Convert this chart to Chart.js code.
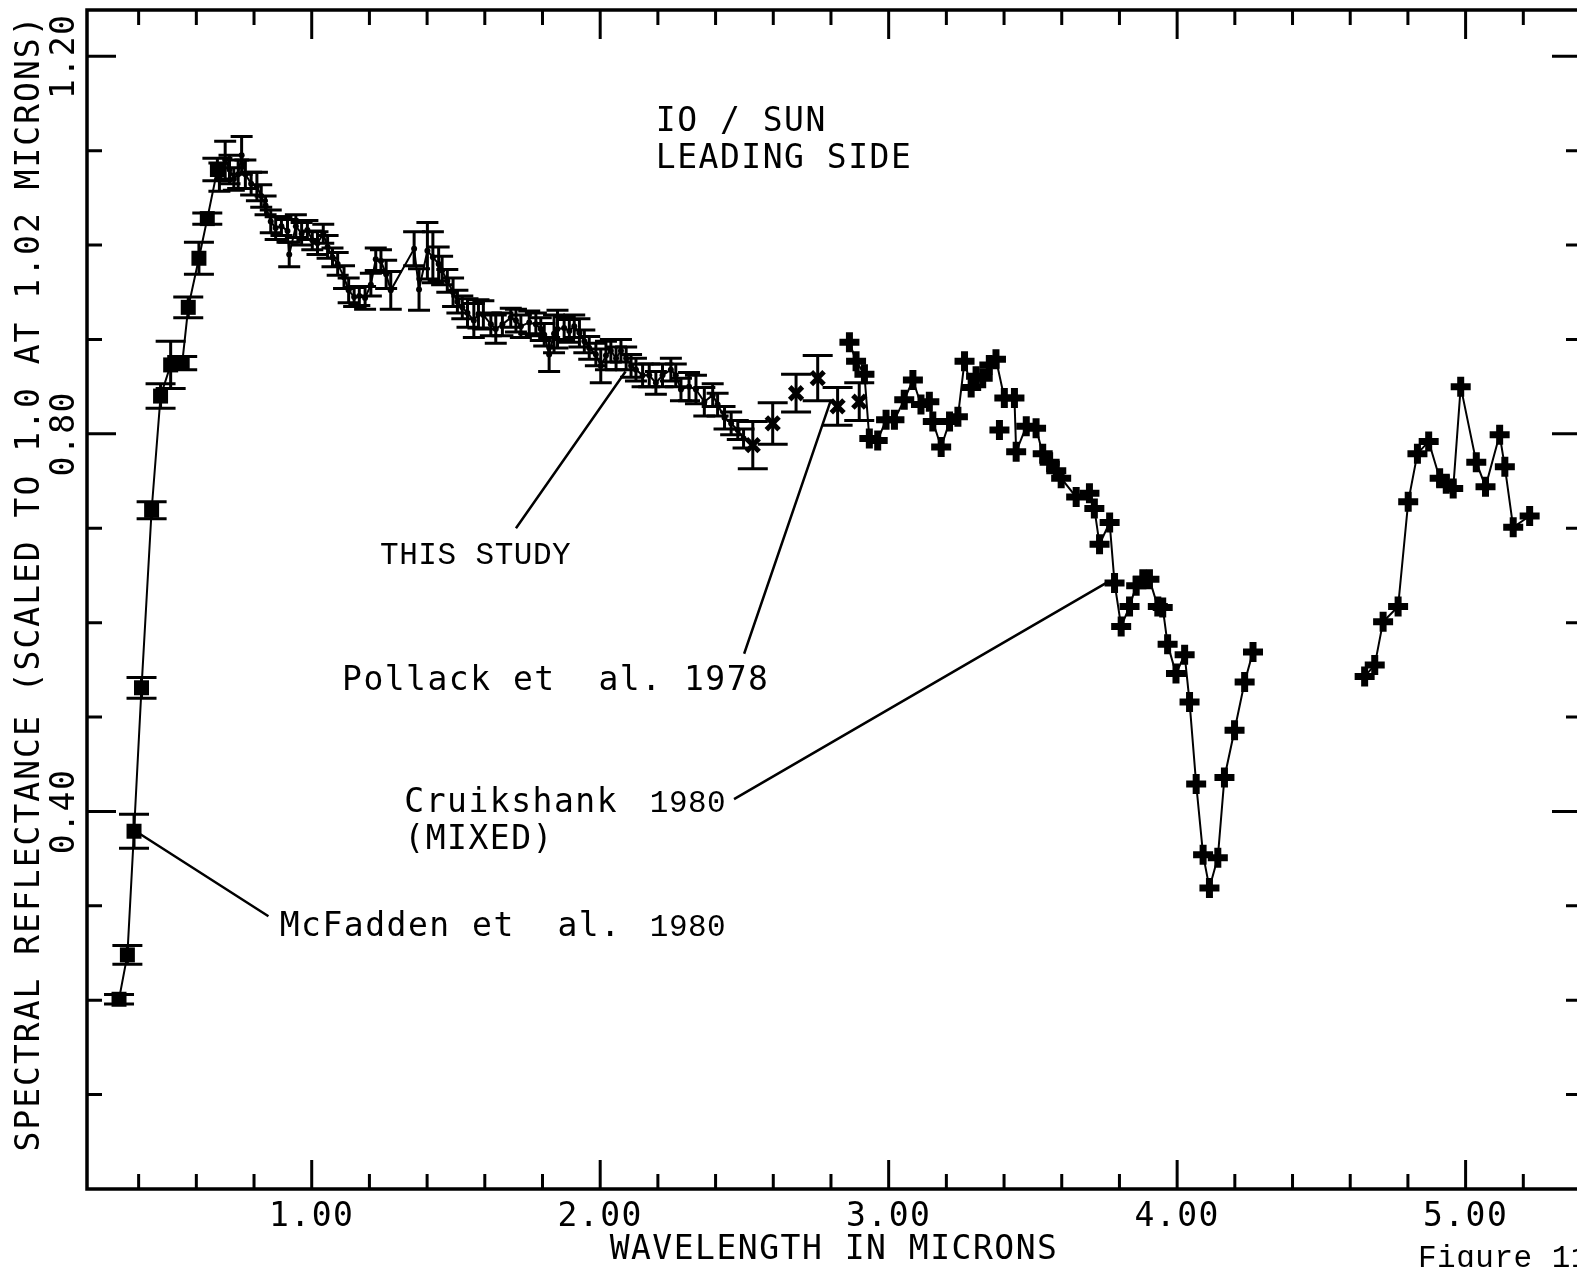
<!DOCTYPE html>
<html>
<head>
<meta charset="utf-8">
<script src="https://cdn.jsdelivr.net/npm/chart.js@4/dist/chart.umd.min.js"></script>
<style>
  html, body { margin: 0; padding: 0; background: #fff; overflow: hidden; width: 1577px; height: 1267px; }
  #wrap { position: absolute; left: 0; top: 0; width: 1600px; height: 1267px; }
</style>
</head>
<body>
<div id="wrap"><canvas id="c" width="1600" height="1267"></canvas></div>
<script>
// ---- McFadden et al. 1980 (filled squares) ----
const mcfaddenWavelength  = [0.332, 0.361, 0.384, 0.410, 0.445, 0.476, 0.511, 0.551, 0.572, 0.609, 0.638, 0.673];
const mcfaddenReflectance = [0.201, 0.248, 0.379, 0.531, 0.719, 0.840, 0.873, 0.875, 0.934, 0.986, 1.028, 1.080];
const mcfaddenError       = [0.005, 0.010, 0.018, 0.011, 0.009, 0.013, 0.025, 0.007, 0.011, 0.017, 0.006, 0.012];

// ---- This study (small dots) ----
const studyWavelength = [
  0.680, 0.700, 0.715, 0.730, 0.745, 0.757, 0.770, 0.790, 0.810, 0.825,
  0.840, 0.858, 0.875, 0.895, 0.916, 0.922, 0.945, 0.965, 0.985, 1.002,
  1.020, 1.040, 1.055, 1.072, 1.090, 1.112, 1.128, 1.147, 1.165, 1.185,
  1.205, 1.222, 1.240, 1.258, 1.274, 1.355, 1.372, 1.401, 1.420, 1.440,
  1.452, 1.470, 1.490, 1.505, 1.522, 1.540, 1.562, 1.578, 1.595, 1.621,
  1.638, 1.661, 1.690, 1.708, 1.725, 1.754, 1.777, 1.794, 1.806, 1.823,
  1.840, 1.852, 1.875, 1.893, 1.910, 1.928, 1.945, 1.962, 1.985, 2.002,
  2.020, 2.037, 2.055, 2.072, 2.090, 2.107, 2.124, 2.147, 2.170, 2.193,
  2.216, 2.245, 2.262, 2.280, 2.308, 2.332, 2.361, 2.390, 2.407, 2.431,
  2.454, 2.477, 2.497
];
const studyReflectance = [
  1.072, 1.090, 1.080, 1.070, 1.075, 1.095, 1.075, 1.065, 1.062, 1.052,
  1.042, 1.025, 1.018, 1.020, 1.015, 0.990, 1.020, 1.012, 1.016, 1.005,
  1.002, 1.012, 0.998, 0.987, 0.980, 0.966, 0.952, 0.945, 0.946, 0.944,
  0.958, 0.985, 0.983, 0.969, 0.952, 0.996, 0.953, 0.994, 0.987, 0.980,
  0.973, 0.962, 0.950, 0.940, 0.934, 0.928, 0.920, 0.927, 0.926, 0.916,
  0.911, 0.916, 0.923, 0.920, 0.914, 0.918, 0.916, 0.911, 0.905, 0.884,
  0.906, 0.911, 0.912, 0.909, 0.914, 0.907, 0.898, 0.891, 0.884, 0.872,
  0.883, 0.888, 0.880, 0.888, 0.880, 0.872, 0.868, 0.862, 0.862, 0.854,
  0.862, 0.868, 0.862, 0.847, 0.850, 0.847, 0.834, 0.841, 0.831, 0.817,
  0.811, 0.804, 0.795
];
const studyError = [
  0.015, 0.020, 0.015, 0.012, 0.015, 0.020, 0.015, 0.012, 0.015, 0.012,
  0.010, 0.012, 0.012, 0.010, 0.012, 0.013, 0.012, 0.012, 0.010, 0.010,
  0.012, 0.010, 0.012, 0.010, 0.012, 0.012, 0.013, 0.010, 0.010, 0.012,
  0.012, 0.012, 0.012, 0.015, 0.020, 0.018, 0.022, 0.030, 0.027, 0.018,
  0.015, 0.012, 0.015, 0.012, 0.012, 0.015, 0.018, 0.015, 0.015, 0.012,
  0.015, 0.012, 0.010, 0.012, 0.012, 0.012, 0.012, 0.012, 0.012, 0.018,
  0.020, 0.020, 0.012, 0.012, 0.012, 0.015, 0.012, 0.012, 0.012, 0.018,
  0.015, 0.012, 0.012, 0.012, 0.012, 0.012, 0.012, 0.012, 0.012, 0.012,
  0.012, 0.012, 0.012, 0.012, 0.015, 0.015, 0.015, 0.012, 0.012, 0.012,
  0.012, 0.010, 0.010
];

// ---- Pollack et al. 1978 (x markers) ----
const pollackWavelength  = [2.529, 2.598, 2.679, 2.754, 2.823, 2.898];
const pollackReflectance = [0.788, 0.811, 0.843, 0.859, 0.829, 0.834];
const pollackError       = [0.025, 0.022, 0.020, 0.024, 0.020, 0.020];

// ---- Cruikshank 1980, mixed (plus markers); null marks the gap near 4.4 microns ----
const cruikshankWavelength = [
  2.864, 2.887, 2.916, 2.933, 2.962, 2.991, 3.020, 3.054, 3.084, 3.112,
  3.141, 3.153, 3.182, 3.211, 3.240, 3.263, 3.286, 3.303, 3.326, 3.349,
  3.372, 3.401, 3.436, 3.442, 3.477, 3.511, 3.534, 3.558, 3.581, 3.598,
  3.650, 3.696, 3.713, 3.731, 3.766, 3.783, 3.806, 3.835, 3.858, 3.881,
  3.904, 3.933, 3.950, 3.967, 3.996, 4.026, 4.043, 4.066, 4.090, 4.112,
  4.141, 4.164, 4.199, 4.234, 4.263, 4.450,
  4.650, 4.685, 4.714, 4.766, 4.801, 4.833, 4.872, 4.910, 4.933, 4.957,
  4.983, 5.037, 5.069, 5.118, 5.136, 5.165, 5.222
];
const cruikshankReflectance = [
  0.897, 0.877, 0.863, 0.795, 0.793, 0.815, 0.815, 0.836, 0.857, 0.831,
  0.834, 0.813, 0.786, 0.813, 0.818, 0.877, 0.849, 0.861, 0.859, 0.873,
  0.879, 0.838, 0.838, 0.781, 0.808, 0.806, 0.779, 0.770, 0.761, 0.753,
  0.733, 0.737, 0.721, 0.683, 0.706, 0.642, 0.596, 0.617, 0.639, 0.646,
  0.646, 0.617, 0.616, 0.577, 0.546, 0.566, 0.516, 0.429, 0.354, 0.319,
  0.351, 0.436, 0.486, 0.537, 0.569, null,
  0.543, 0.555, 0.601, 0.617, 0.728, 0.779, 0.792, 0.753, 0.747, 0.742,
  0.850, 0.770, 0.744, 0.799, 0.765, 0.701, 0.713
];
// a lone Cruikshank point off the connected trace
const cruikshankLoneWavelength  = [3.384];
const cruikshankLoneReflectance = [0.804];

// ---- axis ticks ----
const xMinorTicks = [0.4, 0.6, 0.8, 1.2, 1.4, 1.6, 1.8, 2.2, 2.4, 2.6, 2.8, 3.2, 3.4, 3.6, 3.8, 4.2, 4.4, 4.6, 4.8, 5.2];
const xMajorTicks = [1, 2, 3, 4, 5];
const xTickLabels = ['1.00', '2.00', '3.00', '4.00', '5.00'];
const yMinorTicks = [0.1, 0.2, 0.3, 0.5, 0.6, 0.7, 0.9, 1.0, 1.1];
const yMajorTicks = [0.4, 0.8, 1.2];
const yTickLabels = ['0.40', '0.80', '1.20'];

const PLOT_FONT = '33px "DejaVu Sans Mono"';
const TYPE_FONT = '31px "Liberation Mono"';

function points(xs, ys) { return xs.map((x, i) => ({ x: x, y: ys[i] })); }

// text notes, anchored in data units (wavelength, reflectance)
const notes = [
  { text: 'IO / SUN',         x: 2.193, y: 1.130, font: PLOT_FONT, spacing: 1.5 },
  { text: 'LEADING SIDE',     x: 2.193, y: 1.091, font: PLOT_FONT, spacing: 1.5 },
  { text: 'THIS STUDY',       x: 1.237, y: 0.671, font: TYPE_FONT, spacing: 0.5 },
  { text: 'Pollack et  al. 1978', x: 1.105, y: 0.538, font: PLOT_FONT, spacing: 1.5 },
  { text: 'Cruikshank',       x: 1.321, y: 0.408, font: PLOT_FONT, spacing: 1.5 },
  { text: '1980',             x: 2.172, y: 0.408, font: TYPE_FONT, spacing: 0.5 },
  { text: '(MIXED)',          x: 1.321, y: 0.369, font: PLOT_FONT, spacing: 1.5 },
  { text: 'McFadden et  al.', x: 0.889, y: 0.277, font: PLOT_FONT, spacing: 1.5 },
  { text: '1980',             x: 2.172, y: 0.277, font: TYPE_FONT, spacing: 0.5 }
];
const leaders = [
  [1.708, 0.700, 2.088, 0.866],
  [2.499, 0.567, 2.800, 0.836],
  [2.464, 0.413, 3.765, 0.644],
  [0.850, 0.289, 0.390, 0.379]
];

// vertical error bars with caps
const errorBarPlugin = {
  id: 'errorBars',
  afterDatasetsDraw(chart) {
    const ctx = chart.ctx, xs = chart.scales.x, ys = chart.scales.y;
    ctx.save();
    ctx.strokeStyle = '#000';
    chart.data.datasets.forEach(ds => {
      if (!ds.errors) return;
      ctx.lineWidth = ds.errorWidth;
      ds.data.forEach((p, i) => {
        const e = ds.errors[i];
        if (p.y == null || !e) return;
        const px = xs.getPixelForValue(p.x);
        const top = ys.getPixelForValue(p.y + e);
        const bot = ys.getPixelForValue(p.y - e);
        const hw = ds.capWidth / 2;
        ctx.beginPath();
        ctx.moveTo(px, top); ctx.lineTo(px, bot);
        ctx.moveTo(px - hw, top); ctx.lineTo(px + hw, top);
        ctx.moveTo(px - hw, bot); ctx.lineTo(px + hw, bot);
        ctx.stroke();
      });
    });
    ctx.restore();
  }
};

// frame, inward ticks on all four sides, tick labels and titles
const framePlugin = {
  id: 'frame',
  afterDraw(chart) {
    const ctx = chart.ctx, a = chart.chartArea, xs = chart.scales.x, ys = chart.scales.y;
    ctx.save();
    ctx.strokeStyle = '#000';
    ctx.fillStyle = '#000';
    ctx.lineWidth = 3.5;
    ctx.strokeRect(a.left, a.top, a.right - a.left, a.bottom - a.top);

    const minorLen = 15, majorLen = 29;
    ctx.lineWidth = 3;
    ctx.beginPath();
    const xTick = (v, len) => {
      const px = xs.getPixelForValue(v);
      ctx.moveTo(px, a.bottom); ctx.lineTo(px, a.bottom - len);
      ctx.moveTo(px, a.top); ctx.lineTo(px, a.top + len);
    };
    const yTick = (v, len) => {
      const py = ys.getPixelForValue(v);
      ctx.moveTo(a.left, py); ctx.lineTo(a.left + len, py);
      ctx.moveTo(a.right, py); ctx.lineTo(a.right - len, py);
    };
    xMinorTicks.forEach(v => xTick(v, minorLen));
    xMajorTicks.forEach(v => xTick(v, majorLen));
    yMinorTicks.forEach(v => yTick(v, minorLen));
    yMajorTicks.forEach(v => yTick(v, majorLen));
    ctx.stroke();

    ctx.font = PLOT_FONT;
    ctx.letterSpacing = '1.5px';
    ctx.textAlign = 'center';
    ctx.textBaseline = 'middle';
    xMajorTicks.forEach((v, i) => {
      ctx.fillText(xTickLabels[i], xs.getPixelForValue(v), 1217);
    });
    ctx.fillText('WAVELENGTH IN MICRONS', 834, 1250);

    yMajorTicks.forEach((v, i) => {
      ctx.save();
      ctx.translate(65, ys.getPixelForValue(v));
      ctx.rotate(-Math.PI / 2);
      ctx.fillText(yTickLabels[i], 0, 0);
      ctx.restore();
    });
    ctx.save();
    ctx.translate(30, 583);
    ctx.rotate(-Math.PI / 2);
    ctx.letterSpacing = '2px';
    ctx.fillText('SPECTRAL REFLECTANCE (SCALED TO 1.0 AT 1.02 MICRONS)', 0, 0);
    ctx.restore();

    // leader lines and notes
    ctx.lineWidth = 2.5;
    ctx.beginPath();
    leaders.forEach(l => {
      ctx.moveTo(xs.getPixelForValue(l[0]), ys.getPixelForValue(l[1]));
      ctx.lineTo(xs.getPixelForValue(l[2]), ys.getPixelForValue(l[3]));
    });
    ctx.stroke();

    ctx.textAlign = 'left';
    notes.forEach(n => {
      ctx.font = n.font;
      ctx.letterSpacing = n.spacing + 'px';
      ctx.fillText(n.text, xs.getPixelForValue(n.x), ys.getPixelForValue(n.y));
    });

    ctx.font = TYPE_FONT;
    ctx.letterSpacing = '0.5px';
    ctx.fillText('Figure 11', 1418, 1259);
    ctx.restore();
  }
};

new Chart(document.getElementById('c'), {
  type: 'scatter',
  data: {
    datasets: [
      {
        label: 'McFadden et al. 1980',
        data: points(mcfaddenWavelength, mcfaddenReflectance),
        errors: mcfaddenError, capWidth: 30, errorWidth: 3,
        showLine: true, borderColor: '#000', borderWidth: 2,
        pointStyle: 'rect', pointRadius: 10.6, pointBackgroundColor: '#000', pointBorderColor: '#000', pointBorderWidth: 0
      },
      {
        label: 'This study',
        data: points(studyWavelength, studyReflectance),
        errors: studyError, capWidth: 22, errorWidth: 3,
        showLine: true, borderColor: '#000', borderWidth: 2,
        pointStyle: 'circle', pointRadius: 3, pointBackgroundColor: '#000', pointBorderColor: '#000', pointBorderWidth: 0
      },
      {
        label: 'Pollack et al. 1978',
        data: points(pollackWavelength, pollackReflectance),
        errors: pollackError, capWidth: 30, errorWidth: 3,
        showLine: false,
        pointStyle: 'crossRot', pointRadius: 9, pointBorderColor: '#000', pointBorderWidth: 5
      },
      {
        label: 'Cruikshank 1980',
        data: points(cruikshankWavelength, cruikshankReflectance),
        showLine: true, spanGaps: false, borderColor: '#000', borderWidth: 2,
        pointStyle: 'cross', pointRadius: 10, pointBorderColor: '#000', pointBorderWidth: 7
      },
      {
        label: 'Cruikshank 1980 (lone)',
        data: points(cruikshankLoneWavelength, cruikshankLoneReflectance),
        showLine: false,
        pointStyle: 'cross', pointRadius: 10, pointBorderColor: '#000', pointBorderWidth: 7
      }
    ]
  },
  options: {
    responsive: false,
    animation: false,
    devicePixelRatio: 1,
    layout: { autoPadding: false, padding: { left: 87, top: 10, right: 19, bottom: 78 } },
    scales: {
      x: { type: 'linear', min: 0.221, max: 5.4, display: false },
      y: { type: 'linear', min: 0, max: 1.249, display: false }
    },
    plugins: { legend: { display: false }, tooltip: { enabled: false } },
    elements: { line: { tension: 0 } }
  },
  plugins: [errorBarPlugin, framePlugin]
});
</script>
</body>
</html>
